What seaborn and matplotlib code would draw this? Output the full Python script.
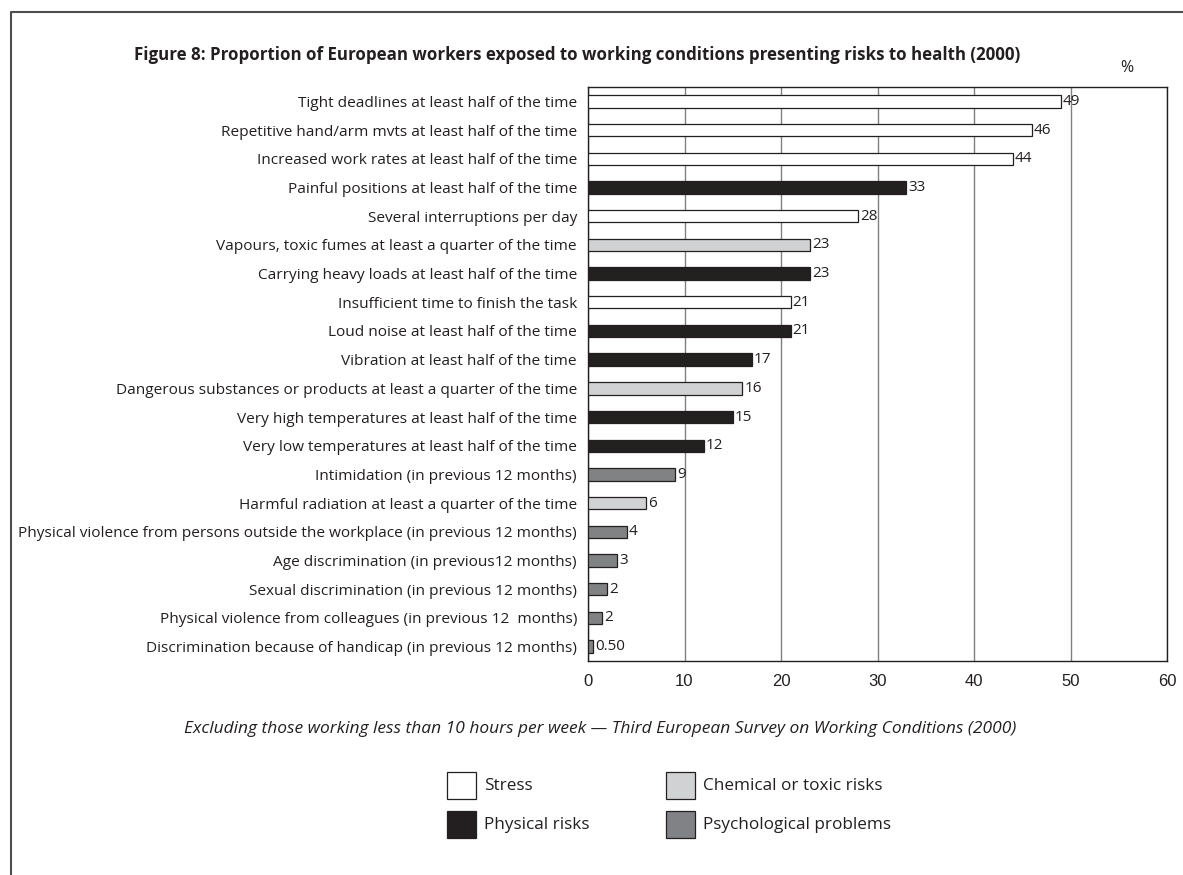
import matplotlib
matplotlib.use("Agg")
import matplotlib.pyplot as plt
from matplotlib.patches import Rectangle
from matplotlib.lines import Line2D
import seaborn as sns
import pandas as pd
import numpy as np

# ---- data -------------------------------------------------------------
categories = [
    "Tight deadlines at least half of the time",
    "Repetitive hand/arm mvts at least half of the time",
    "Increased work rates at least half of the time",
    "Painful positions at least half of the time",
    "Several interruptions per day",
    "Vapours, toxic fumes at least a quarter of the time",
    "Carrying heavy loads at least half of the time",
    "Insufficient time to finish the task",
    "Loud noise at least half of the time",
    "Vibration at least half of the time",
    "Dangerous substances or products at least a quarter of the time",
    "Very high temperatures at least half of the time",
    "Very low temperatures at least half of the time",
    "Intimidation (in previous 12 months)",
    "Harmful radiation at least a quarter of the time",
    "Physical violence from persons outside the workplace (in previous 12 months)",
    "Age discrimination (in previous12 months)",
    "Sexual discrimination (in previous 12 months)",
    "Physical violence from colleagues (in previous 12  months)",
    "Discrimination because of handicap (in previous 12 months)",
]
values = [49, 46, 44, 33, 28, 23, 23, 21, 21, 17, 16, 15, 12, 9, 6, 4, 3, 2, 1.5, 0.5]
groups = [
    "Stress", "Stress", "Stress", "Physical risks", "Stress",
    "Chemical or toxic risks", "Physical risks", "Stress", "Physical risks",
    "Physical risks", "Chemical or toxic risks", "Physical risks",
    "Physical risks", "Psychological problems", "Chemical or toxic risks",
    "Psychological problems", "Psychological problems",
    "Psychological problems", "Psychological problems",
    "Psychological problems",
]
group_order = ["Stress", "Physical risks", "Chemical or toxic risks",
               "Psychological problems"]
group_colors = {
    "Stress": "#ffffff",
    "Physical risks": "#231f20",
    "Chemical or toxic risks": "#d1d2d3",
    "Psychological problems": "#808285",
}
x_ticks = [0, 10, 20, 30, 40, 50, 60]

title = ("Figure 8: Proportion of European workers exposed to working "
         "conditions presenting risks to health (2000)")
caption = ("Excluding those working less than 10 hours per week \u2014 "
           "Third European Survey on Working Conditions (2000)")

df = pd.DataFrame({"category": categories, "value": values, "group": groups})

# ---- figure -----------------------------------------------------------
sns.set_style("white")
plt.rcParams["font.family"] = ["Open Sans", "DejaVu Sans"]
EDGE = "#231f20"
TXT = "#231f20"

fig = plt.figure(figsize=(11.83, 8.75), dpi=100)
ax = fig.add_axes([588 / 1183, 1 - 661 / 875, (1167 - 588) / 1183, (661 - 87) / 875])

sns.barplot(data=df, x="value", y="category", hue="group", order=categories,
            hue_order=group_order, palette=group_colors, dodge=False,
            width=0.43, edgecolor=EDGE, linewidth=0.9, orient="h",
            legend=False, ax=ax, zorder=3)


def fmt(v):
    return f"{v:.2f}" if v < 1 else f"{v:.0f}"


for cont in ax.containers:
    ax.bar_label(cont, labels=[fmt(v) for v in cont.datavalues], padding=1.5,
                 fontsize=11, color=TXT)

ax.set_xlim(0, 60)
ax.set_ylim(len(categories) - 0.5, -0.5)
ax.set_xticks(x_ticks)
ax.set_xticklabels([str(t) for t in x_ticks], family="Liberation Sans",
                   fontsize=12, color=TXT)
ax.set_xlabel("")
ax.set_ylabel("")
ax.tick_params(axis="y", length=0, pad=8, labelsize=11.1, labelcolor=TXT)
ax.set_yticks(np.arange(len(categories) + 1) - 0.5, minor=True)
ax.tick_params(axis="y", which="minor", length=4, direction="out",
               color=EDGE, width=0.9)
ax.tick_params(axis="x", length=4, direction="out", color=EDGE,
               width=0.9, pad=5)
ax.grid(axis="x", color="#808080", linewidth=1.0, zorder=0)
ax.grid(axis="y", visible=False)
for s in ax.spines.values():
    s.set_visible(True)
    s.set_color(EDGE)
    s.set_linewidth(1.0)

# titles and notes
fig.text(577 / 1183, 1 - 55 / 875, title, ha="center", va="center",
         fontsize=12.2, fontweight="bold", color=TXT)
fig.text(1127 / 1183, 1 - 68 / 875, "%", ha="center", va="center",
         fontsize=11.5, color=TXT)
fig.text(600 / 1183, 1 - 729 / 875, caption, ha="center", va="center",
         fontsize=12.5, style="italic", color=TXT)

# legend keys
legend_pos = {
    "Stress": (447, 772),
    "Physical risks": (447, 811),
    "Chemical or toxic risks": (666, 772),
    "Psychological problems": (666, 811),
}
for name in group_order:
    x0, y0 = legend_pos[name]
    fig.patches.append(Rectangle((x0 / 1183, 1 - (y0 + 27) / 875),
                                 29 / 1183, 27 / 875,
                                 transform=fig.transFigure,
                                 facecolor=group_colors[name],
                                 edgecolor=EDGE, linewidth=0.9))
    fig.text((x0 + 37) / 1183, 1 - (y0 + 14) / 875, name, ha="left",
             va="center", fontsize=12.3, color=TXT)

# outer frame (top and left edges)
fig.add_artist(Line2D([11 / 1183, 11 / 1183, 1.0], [0.0, 1 - 12 / 875, 1 - 12 / 875],
                      transform=fig.transFigure, color="#4d4d4d", linewidth=1.5))

fig.savefig("out.png", dpi=100)
